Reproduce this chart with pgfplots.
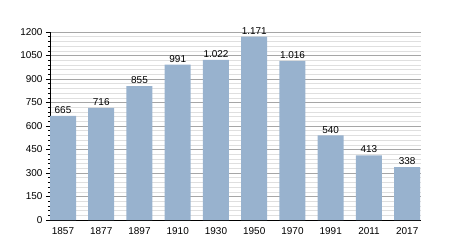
\documentclass[border=0pt]{standalone}
\usepackage{pgfplots}
\pgfplotsset{compat=1.18}
\usepackage{fontspec}
\setmainfont{Liberation Sans}
\definecolor{barblue}{RGB}{152,178,206}
\begin{document}
\begin{tikzpicture}[x=1bp,y=1bp]
\useasboundingbox (-50bp,-30bp) rectangle (400bp,220bp);
\begin{axis}[
  at={(0bp,0bp)}, anchor=south west,
  scale only axis, width=371bp, height=188bp,
  xmin=-0.34, xmax=9.36, ymin=0, ymax=1200,
  xtick={0,...,9},
  xticklabels={1857,1877,1897,1910,1930,1950,1970,1991,2011,2017},
  ytick={0,150,...,1200},
  minor ytick={0,30,...,1200},
  axis x line*=bottom, axis y line*=left,
  axis line style={black, line width=0.8pt, -},
  major x tick style={draw=none},
  y tick style={black, line width=0.5pt},
  major tick length=4bp, minor tick length=2bp,
  tick align=outside,
  ymajorgrids, yminorgrids,
  major grid style={gray!70, line width=0.5pt},
  minor grid style={gray!25, line width=0.5pt},
  tick label style={font=\fontsize{10}{11}\selectfont},
  /pgf/number format/assume math mode=true,
  yticklabel style={/pgf/number format/1000 sep={}},
  ybar, bar width=26bp, bar shift=0pt,
  nodes near coords={\pgfmathprintnumber[1000 sep={.}]{\pgfplotspointmeta}},
  nodes near coords style={font=\fontsize{10}{11}\selectfont, black, inner sep=1.5bp, yshift=0.5bp},
  clip=false,
]
\addplot[fill=barblue, draw=none] coordinates {
(0,665) (1,716) (2,855) (3,991) (4,1022) (5,1171) (6,1016) (7,540) (8,413) (9,338)
};
\end{axis}
\end{tikzpicture}
\end{document}
